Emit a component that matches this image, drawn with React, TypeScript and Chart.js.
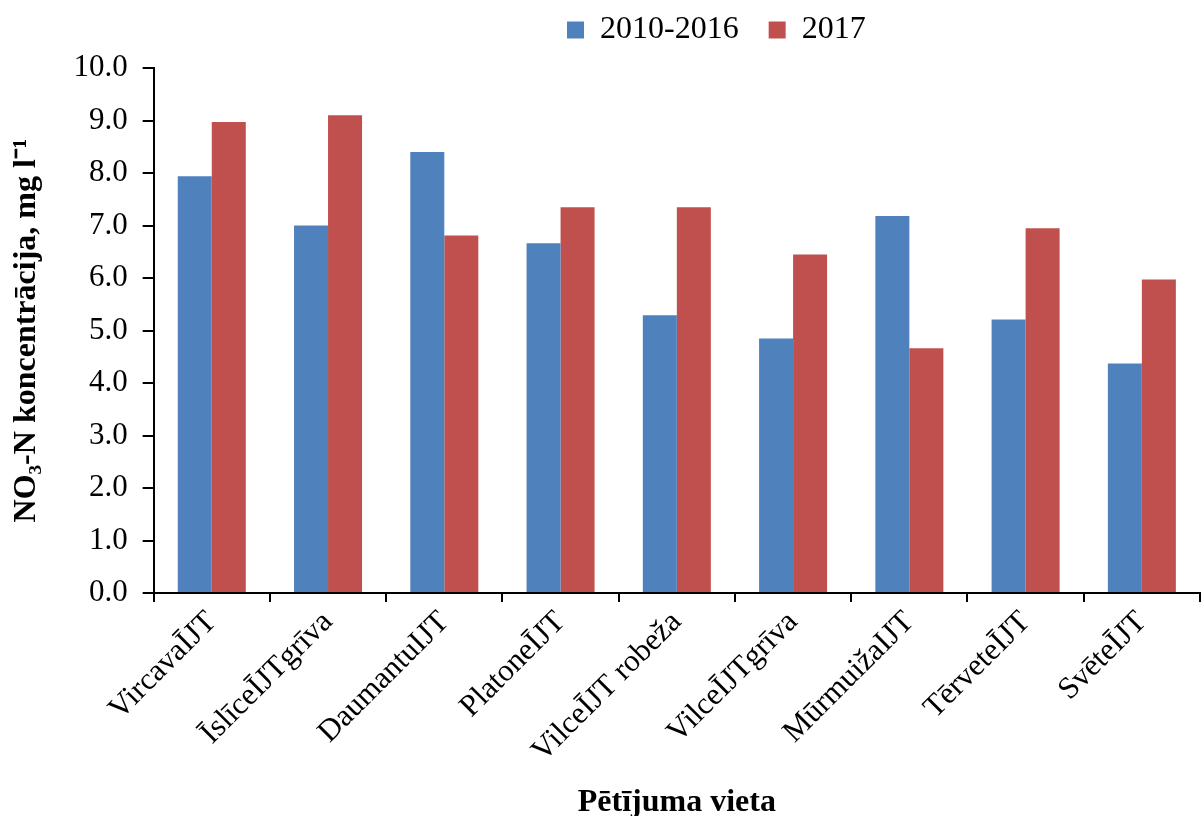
import React, { useEffect, useRef } from "react";
import { Chart, registerables } from "chart.js";

Chart.register(...registerables);

const categories = [
  "VircavaĪJT",
  "ĪslīceĪJTgrīva",
  "DaumantuIJT",
  "PlatoneĪJT",
  "VilceĪJT robeža",
  "VilceĪJTgrīva",
  "MūrmuižaIJT",
  "TērveteĪJT",
  "SvēteĪJT",
];
const series2010_2016 = [7.94, 7.0, 8.4, 6.66, 5.29, 4.85, 7.18, 5.21, 4.37];
const series2017 = [8.97, 9.1, 6.81, 7.35, 7.35, 6.45, 4.66, 6.95, 5.97];
const seriesNames = ["2010-2016", "2017"];
const yTitle = "NO₃-N koncentrācija, mg l⁻¹";
const xTitle = "Pētījuma vieta";

const legendPlacement = {
  id: "legendPlacement",
  beforeInit(chart: any) {
    const legend = chart.legend;
    if (!legend) return;
    const origFit = legend.fit;
    legend.fit = function () {
      origFit.call(this);
      this.height = 68;
    };
  },
  afterLayout(chart: any) {
    const legend = chart.legend;
    if (!legend) return;
    const w = legend.width;
    legend.left = 567 - 30;
    legend.right = legend.left + w;
    legend.top = -16;
  },
};

export default function App() {
  const ref = useRef<HTMLCanvasElement | null>(null);
  useEffect(() => {
    document.body.style.margin = "0";
    if (!ref.current) return;
    const font = "'Liberation Serif', 'Times New Roman', serif";
    const chart = new Chart(ref.current, {
      type: "bar",
      data: {
        labels: categories,
        datasets: [
          {
            label: seriesNames[0],
            data: series2010_2016,
            backgroundColor: "#4F81BD",
            categoryPercentage: 0.585,
            barPercentage: 1,
          },
          {
            label: seriesNames[1],
            data: series2017,
            backgroundColor: "#C0504D",
            categoryPercentage: 0.585,
            barPercentage: 1,
          },
        ],
      },
      plugins: [legendPlacement],
      options: {
        animation: false,
        responsive: false,
        maintainAspectRatio: false,
        layout: { padding: { left: 8, right: 2, top: 0, bottom: 0 } },
        plugins: {
          tooltip: { enabled: false },
          legend: {
            position: "top",
            align: "start",
            labels: {
              color: "#000",
              font: { family: font, size: 32 },
              boxWidth: 17,
              boxHeight: 17,
              padding: 30,
            },
          },
        },
        scales: {
          x: {
            offset: true,
            grid: {
              display: true,
              drawOnChartArea: false,
              drawTicks: true,
              tickLength: 9,
              color: "#000",
              lineWidth: 2,
              offset: true,
            },
            border: { color: "#000", width: 2 },
            ticks: {
              color: "#000",
              font: { family: font, size: 31 },
              minRotation: 45,
              maxRotation: 45,
              padding: 2,
            },
            title: {
              display: true,
              text: xTitle,
              color: "#000",
              font: { family: font, size: 32, weight: "bold" },
              padding: { top: 12, bottom: -6 },
            },
          },
          y: {
            min: 0,
            max: 10,
            grid: {
              display: true,
              drawOnChartArea: false,
              drawTicks: true,
              tickLength: 11,
              color: "#000",
              lineWidth: 2,
            },
            border: { color: "#000", width: 2 },
            ticks: {
              stepSize: 1,
              color: "#000",
              font: { family: font, size: 31 },
              padding: 15,
              callback: (v: any) => Number(v).toFixed(1),
            },
            title: {
              display: true,
              text: yTitle,
              color: "#000",
              font: { family: font, size: 32, weight: "bold" },
              padding: { top: 0, bottom: 12 },
            },
          },
        },
      },
    });
    return () => chart.destroy();
  }, []);
  return (
    <div style={{ width: 1202, height: 816 }}>
      <canvas ref={ref} width={1202} height={816} style={{ display: "block" }} />
    </div>
  );
}
